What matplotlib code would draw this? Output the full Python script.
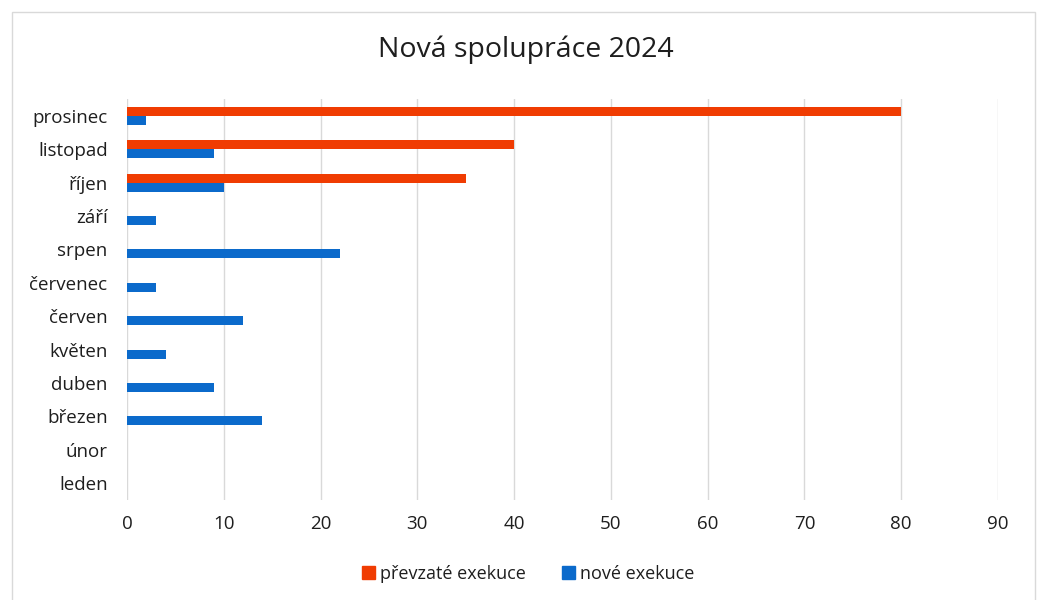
import numpy as np
import matplotlib.pyplot as plt
from matplotlib.patches import Rectangle, Patch

# ── Data ──────────────────────────────────────────────────────────────────────
MONTHS = ["leden", "únor", "březen", "duben", "květen", "červen",
          "červenec", "srpen", "září", "říjen", "listopad", "prosinec"]
PREVZATE = [0, 0, 0, 0, 0, 0, 0, 0, 0, 35, 40, 80]
NOVE     = [0, 0, 14, 9, 4, 12, 3, 22, 3, 10, 9, 2]

C_PREV = "#F03C02"
C_NOVE = "#0B6ACB"
TXT = "#1E1E1E"

plt.rcParams.update({
    "font.family": ["Open Sans", "DejaVu Sans"],
    "font.size": 13,
})

fig = plt.figure(figsize=(10.42, 6.0), dpi=100)
ax = fig.add_axes([127 / 1042, 1 - 500 / 600, (998 - 127) / 1042, (500 - 99) / 600])

# light chart frame
fig.patches.append(Rectangle((12 / 1042, -0.01), (1035 - 12) / 1042, 1 - 12 / 600 + 0.01,
                             transform=fig.transFigure, fill=False,
                             edgecolor="#D9D9D9", linewidth=1))

y = np.arange(len(MONTHS))
h = 0.27
ax.barh(y + h / 2, PREVZATE, height=h, color=C_PREV, zorder=3)
ax.barh(y - h / 2, NOVE, height=h, color=C_NOVE, zorder=3)

ax.set_xlim(0, 90)
ax.set_ylim(-0.5, len(MONTHS) - 0.5)
ax.set_xticks(np.arange(0, 91, 10))
ax.set_yticks(y)
ax.set_yticklabels(MONTHS)
ax.tick_params(axis="both", length=0, colors=TXT, labelsize=13.5)
ax.tick_params(axis="x", pad=11)
ax.tick_params(axis="y", pad=14)
ax.grid(axis="x", color="#D9D9D9", linewidth=1, zorder=0)
for s in ax.spines.values():
    s.set_visible(False)

fig.text(0.505, 1 - 50 / 600, "Nová spolupráce 2024", ha="center", va="center",
         fontsize=20.5, color=TXT)

handles = [Patch(color=C_PREV, label="převzaté exekuce"),
           Patch(color=C_NOVE, label="nové exekuce")]
fig.legend(handles=handles, loc="center", bbox_to_anchor=(0.507, 1 - 574 / 600),
           ncol=2, frameon=False, fontsize=13, handlelength=0.7, handleheight=0.7,
           handletextpad=0.3, columnspacing=2.0, labelcolor=TXT)

fig.savefig("out.png", dpi=100, facecolor="white")
